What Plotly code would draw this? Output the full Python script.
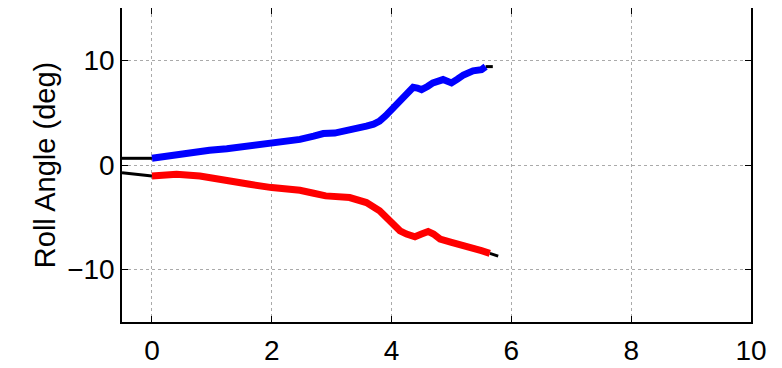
import plotly.graph_objects as go

# Data
blue_t = [0, 0.2, 0.41, 0.7, 0.96, 1.25, 1.52, 1.8, 2.03, 2.25, 2.47, 2.7, 2.86, 3.05, 3.3, 3.45,
          3.58, 3.7, 3.8, 3.9, 4.0, 4.14, 4.25, 4.36, 4.43, 4.5, 4.6, 4.69, 4.86, 4.95, 5.0, 5.1,
          5.2, 5.36, 5.5, 5.57]
blue_y = [0.64, 0.8, 1.08, 1.3, 1.4, 1.55, 1.74, 1.9, 2.03, 2.2, 2.45, 2.75, 3.0, 3.05, 3.3, 3.5,
          3.71, 3.9, 4.19, 4.7, 5.3, 6.1, 6.8, 7.43, 7.35, 7.2, 7.5, 7.84, 8.16, 8.0, 7.84, 8.2,
          8.6, 9.0, 9.1, 9.4]

red_t = [0, 0.41, 0.8, 1.24, 1.63, 2.0, 2.47, 2.7, 2.9, 3.3, 3.58, 3.8, 4.0, 4.14, 4.25, 4.39,
         4.5, 4.61, 4.7, 4.81, 5.0, 5.31, 5.5, 5.64]
red_y = [-1.05, -0.89, -1.05, -1.52, -1.84, -2.16, -2.41, -2.7, -2.95, -3.11, -3.59, -4.38,
         -5.65, -6.29, -6.6, -6.86, -6.6, -6.35, -6.6, -7.08, -7.4, -7.81, -8.19, -8.44]

blk_blue_start_t = [-0.5, 0]
blk_blue_start_y = [0.64, 0.64]
blk_red_start_t = [-0.5, 0]
blk_red_start_y = [-0.73, -1.05]
blk_blue_end_t = [5.57, 5.69]
blk_blue_end_y = [9.4, 9.4]
blk_red_end_t = [5.64, 5.78]
blk_red_end_y = [-8.44, -8.7]

x_ticks = [0, 2, 4, 6, 8, 10]
y_ticks = [-10, 0, 10]

fig = go.Figure()
for tx, ty in [(blk_blue_start_t, blk_blue_start_y), (blk_red_start_t, blk_red_start_y),
               (blk_blue_end_t, blk_blue_end_y), (blk_red_end_t, blk_red_end_y)]:
    fig.add_trace(go.Scatter(x=tx, y=ty, mode="lines", line=dict(color="black", width=3),
                             showlegend=False, hoverinfo="skip"))
fig.add_trace(go.Scatter(x=blue_t, y=blue_y, mode="lines", line=dict(color="#0000ff", width=7),
                         showlegend=False))
fig.add_trace(go.Scatter(x=red_t, y=red_y, mode="lines", line=dict(color="#ff0000", width=7),
                         showlegend=False))

font = "Liberation Sans, Arial, sans-serif"
fig.update_layout(
    width=774, height=360,
    margin=dict(l=114, r=31, t=0, b=46),
    paper_bgcolor="white", plot_bgcolor="white",
    font=dict(family=font, size=28, color="black"),
)
fig.update_xaxes(range=[-0.5, 10], tickvals=x_ticks, ticks="inside", ticklen=6, tickwidth=1,
                 tickcolor="black", showline=True, linecolor="black", linewidth=1.5, mirror="ticks",
                 showgrid=True, gridcolor="#aaaaaa", griddash="dot", gridwidth=1, zeroline=False,
                 tickfont=dict(size=28), ticklabelstandoff=3, automargin=False)
fig.update_yaxes(range=[-15, 15], tickvals=y_ticks, ticks="inside", ticklen=6, tickwidth=1,
                 tickcolor="black", showline=True, linecolor="black", linewidth=1.5, mirror="ticks",
                 showgrid=True, gridcolor="#aaaaaa", griddash="dot", gridwidth=1, zeroline=False,
                 tickfont=dict(size=28), automargin=False,
                 title=dict(text="Roll Angle (deg)", font=dict(size=29), standoff=3))

fig.write_html("out.html")
